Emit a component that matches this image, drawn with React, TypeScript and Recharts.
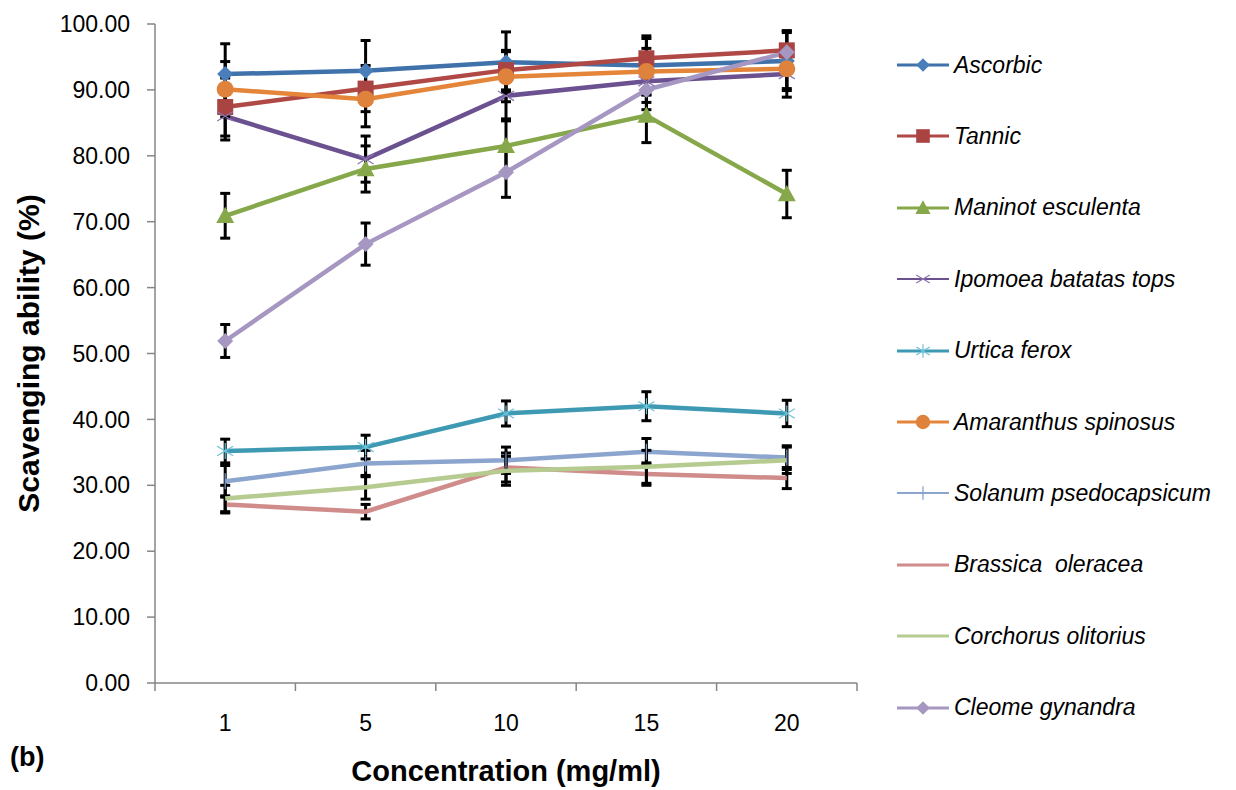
import React from 'react';
import { LineChart, Line, XAxis, YAxis, ErrorBar, Label } from 'recharts';

const categories = ['1', '5', '10', '15', '20'];
const categoryIndex = [0, 1, 2, 3, 4];
const frameTicks = [-0.5, 0, 0.5, 1, 1.5, 2, 2.5, 3, 3.5, 4, 4.5];
const yTicks = [0, 10, 20, 30, 40, 50, 60, 70, 80, 90, 100];

const ascorbic = [92.4, 92.9, 94.2, 93.7, 94.4];
const tannic = [87.4, 90.2, 93.0, 94.8, 96.0];
const manihot = [70.9, 78.0, 81.5, 86.1, 74.2];
const ipomoea = [86.0, 79.5, 89.1, 91.3, 92.4];
const urtica = [35.2, 35.8, 40.9, 42.0, 40.9];
const amaranthus = [90.1, 88.6, 92.0, 92.8, 93.2];
const solanum = [30.6, 33.3, 33.8, 35.1, 34.2];
const brassica = [27.1, 26.0, 32.7, 31.7, 31.1];
const corchorus = [28.0, 29.7, 32.2, 32.8, 33.8];
const cleome = [51.9, 66.6, 77.5, 90.0, 95.7];

const ascorbicErr = [4.6, 4.6, 4.6, 4.5, 4.5];
const tannicErr = [4.4, 3.5, 3.0, 3.0, 3.0];
const manihotErr = [3.4, 3.5, 3.8, 4.1, 3.6];
const ipomoeaErr = [3.6, 3.5, 3.5, 3.2, 3.5];
const urticaErr = [1.8, 1.8, 1.9, 2.2, 2.0];
const amaranthusErr = [4.2, 4.2, 3.8, 3.5, 3.0];
const solanumErr = [2.4, 2.0, 2.0, 2.0, 1.8];
const brassicaErr = [1.3, 1.1, 2.2, 1.7, 1.6];
const corchorusErr = [2.0, 1.8, 2.2, 2.5, 2.0];
const cleomeErr = [2.5, 3.2, 3.8, 3.0, 3.0];

type Series = {
  key: string;
  name: string;
  values: number[];
  errors: number[];
  color: string;
  marker: string;
  markerColor: string;
  legendWidth: number;
};

const series: Series[] = [
  { key: 'ascorbic', name: 'Ascorbic', values: ascorbic, errors: ascorbicErr, color: '#3F71AB', marker: 'diamond', markerColor: '#4A7EBB', legendWidth: 3 },
  { key: 'tannic', name: 'Tannic', values: tannic, errors: tannicErr, color: '#B04845', marker: 'square', markerColor: '#A94442', legendWidth: 3 },
  { key: 'manihot', name: 'Maninot esculenta', values: manihot, errors: manihotErr, color: '#86A84A', marker: 'triangle', markerColor: '#86A84A', legendWidth: 3 },
  { key: 'ipomoea', name: 'Ipomoea batatas tops', values: ipomoea, errors: ipomoeaErr, color: '#6B5190', marker: 'x', markerColor: '#8C74B0', legendWidth: 2 },
  { key: 'urtica', name: 'Urtica ferox', values: urtica, errors: urticaErr, color: '#3E9AB2', marker: 'star', markerColor: '#6CC3DA', legendWidth: 3 },
  { key: 'amaranthus', name: 'Amaranthus spinosus', values: amaranthus, errors: amaranthusErr, color: '#E48539', marker: 'circle', markerColor: '#DE823C', legendWidth: 3 },
  { key: 'solanum', name: 'Solanum psedocapsicum', values: solanum, errors: solanumErr, color: '#8BA5CF', marker: 'plus', markerColor: '#7E9DCB', legendWidth: 2 },
  { key: 'brassica', name: 'Brassica  oleracea', values: brassica, errors: brassicaErr, color: '#D08C8A', marker: 'none', markerColor: '#D08C8A', legendWidth: 3 },
  { key: 'corchorus', name: 'Corchorus olitorius', values: corchorus, errors: corchorusErr, color: '#B5CB8F', marker: 'none', markerColor: '#B5CB8F', legendWidth: 3 },
  { key: 'cleome', name: 'Cleome gynandra', values: cleome, errors: cleomeErr, color: '#A697C2', marker: 'diamond', markerColor: '#A697C2', legendWidth: 3 },
];

const data = categoryIndex.map((i) => {
  const row: Record<string, number | string> = { idx: i, label: categories[i] };
  series.forEach((s) => {
    row[s.key] = s.values[i];
    row[s.key + 'Err'] = s.errors[i];
  });
  return row;
});

const FONT = '"Liberation Sans", Arial, sans-serif';

function markerShape(shape: string, color: string, cx: number, cy: number, key?: string | number, small = false) {
  const k = small ? 0.85 : 1;
  switch (shape) {
    case 'diamond': {
      const r = 8 * k;
      return <path key={key} d={`M${cx},${cy - r}L${cx + r},${cy}L${cx},${cy + r}L${cx - r},${cy}Z`} fill={color} />;
    }
    case 'square': {
      const r = 8 * k;
      return <rect key={key} x={cx - r} y={cy - r} width={2 * r} height={2 * r} fill={color} />;
    }
    case 'triangle': {
      const r = 9 * k;
      return <path key={key} d={`M${cx},${cy - r}L${cx + r},${cy + r * 0.8}L${cx - r},${cy + r * 0.8}Z`} fill={color} />;
    }
    case 'circle':
      return <circle key={key} cx={cx} cy={cy} r={8.5 * k} fill={color} />;
    case 'x': {
      const r = 8 * k;
      return (
        <g key={key} stroke={color} strokeWidth={1.2}>
          <line x1={cx - r} y1={cy - r * 0.6} x2={cx + r} y2={cy + r * 0.6} />
          <line x1={cx - r} y1={cy + r * 0.6} x2={cx + r} y2={cy - r * 0.6} />
        </g>
      );
    }
    case 'star': {
      const r = 8 * k;
      return (
        <g key={key} stroke={color} strokeWidth={1.2}>
          <line x1={cx - r} y1={cy - r * 0.6} x2={cx + r} y2={cy + r * 0.6} />
          <line x1={cx - r} y1={cy + r * 0.6} x2={cx + r} y2={cy - r * 0.6} />
          <line x1={cx} y1={cy - r} x2={cx} y2={cy + r} />
        </g>
      );
    }
    case 'plus': {
      const r = 8 * k;
      return (
        <g key={key} stroke={color} strokeWidth={1.2}>
          <line x1={cx} y1={cy - r} x2={cx} y2={cy + r} />
        </g>
      );
    }
    default:
      return <g key={key} />;
  }
}

const makeDot = (s: Series) => (props: any) => {
  const { cx, cy, index } = props;
  if (cx == null || cy == null) return <g key={`${s.key}-${index}`} />;
  return markerShape(s.marker, s.markerColor, cx, cy, `${s.key}-${index}`);
};

const XTick = (props: any) => {
  const { x, y, payload } = props;
  const v = payload.value as number;
  if (Number.isInteger(v)) {
    return (
      <text x={x} y={y + 40} textAnchor="middle" dominantBaseline="central" fontSize={23} fontFamily={FONT} fill="#000">
        {categories[v]}
      </text>
    );
  }
  return <line x1={x} x2={x} y1={y} y2={y + 8} stroke="#868686" strokeWidth={1.5} />;
};

export default function App() {
  return (
    <div style={{ position: 'absolute', left: 0, top: 0, width: 1236, height: 790, background: '#fff', fontFamily: FONT }}>
      <LineChart width={1236} height={790} data={data} margin={{ top: 24, right: 379, left: 0, bottom: 0 }}>
        <XAxis
          dataKey="idx"
          type="number"
          domain={[-0.5, 4.5]}
          ticks={frameTicks}
          interval={0}
          tick={<XTick />}
          tickLine={false}
          tickSize={0}
          tickMargin={0}
          height={107}
          axisLine={{ stroke: '#868686', strokeWidth: 1.5 }}
        >
          <Label
            value="Concentration (mg/ml)"
            position="insideBottom"
            offset={9}
            style={{ fontSize: 29, fontWeight: 'bold', fontFamily: FONT, fill: '#000' }}
          />
        </XAxis>
        <YAxis
          domain={[0, 100]}
          ticks={yTicks}
          interval={0}
          tickFormatter={(v: number) => v.toFixed(2)}
          width={155}
          tickSize={8}
          tickMargin={17}
          axisLine={{ stroke: '#868686', strokeWidth: 1.5 }}
          tickLine={{ stroke: '#868686', strokeWidth: 1.5 }}
          tick={{ fill: '#000', fontSize: 23, fontFamily: FONT }}
        >
          <Label
            value="Scavenging ability (%)"
            angle={-90}
            position="insideLeft"
            offset={28}
            style={{ fontSize: 30, fontWeight: 'bold', fontFamily: FONT, fill: '#000', textAnchor: 'middle' }}
          />
        </YAxis>
        {series.map((s) => (
          <Line
            key={s.key}
            dataKey={s.key}
            name={s.name}
            stroke={s.color}
            strokeWidth={4.5}
            dot={makeDot(s)}
            activeDot={false}
            isAnimationActive={false}
          >
            <ErrorBar dataKey={s.key + 'Err'} direction="y" width={5} strokeWidth={3} stroke="#000" />
          </Line>
        ))}
      </LineChart>
      <div style={{ position: 'absolute', left: 10, top: 741, fontSize: 27, fontWeight: 'bold', fontFamily: FONT, lineHeight: '32px' }}>(b)</div>
      {series.map((s, i) => (
        <div
          key={s.key}
          style={{ position: 'absolute', left: 895, top: 65 + i * 71.4 - 16, height: 32, display: 'flex', alignItems: 'center', whiteSpace: 'pre' }}
        >
          <svg width={56} height={32} style={{ display: 'block' }}>
            <line x1={2} x2={54} y1={16} y2={16} stroke={s.color} strokeWidth={s.legendWidth} />
            {markerShape(s.marker, s.markerColor, 28, 16, undefined, true)}
          </svg>
          <span style={{ fontStyle: 'italic', fontSize: 23, fontFamily: FONT, color: '#000', marginLeft: 3 }}>{s.name}</span>
        </div>
      ))}
    </div>
  );
}
